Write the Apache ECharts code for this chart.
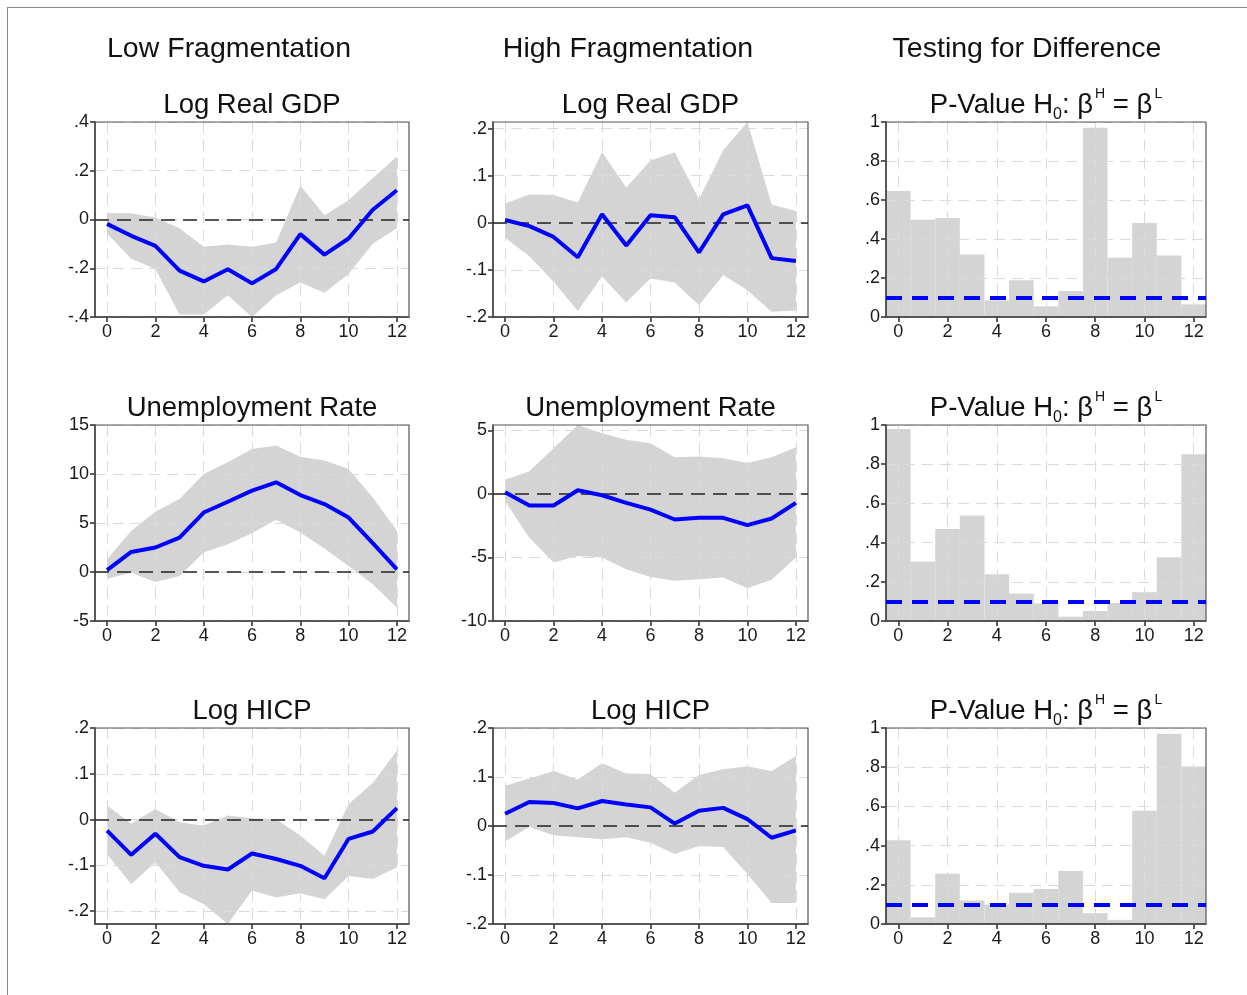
<!DOCTYPE html>
<html>
<head>
<meta charset="utf-8">
<script src="https://cdn.jsdelivr.net/npm/echarts@6/dist/echarts.min.js"></script>
<style>
  html, body { margin: 0; padding: 0; background: #fff; }
  #frame { position: absolute; left: 7px; top: 7px; width: 1240px; height: 988px;
           border-top: 1px solid #8a8a8a; border-left: 1px solid #8a8a8a; }
  #chart { position: absolute; left: 0; top: 0; width: 1247px; height: 995px; }
</style>
</head>
<body>
<div id="frame"></div>
<div id="chart"></div>
<script>
// Horizons (quarters after the shock)
const horizons = [0, 1, 2, 3, 4, 5, 6, 7, 8, 9, 10, 11, 12];
const xTicks = [0, 2, 4, 6, 8, 10, 12];

// Low fragmentation: impulse responses with confidence bands
const lowGdp      = [-0.018, -0.067, -0.108, -0.210, -0.254, -0.204, -0.262, -0.203, -0.060, -0.144, -0.078, 0.040, 0.120];
const lowGdpUpper = [0.026, 0.026, 0.008, -0.036, -0.112, -0.103, -0.112, -0.094, 0.140, 0.017, 0.079, 0.170, 0.258];
const lowGdpLower = [-0.057, -0.161, -0.203, -0.390, -0.390, -0.311, -0.400, -0.311, -0.258, -0.300, -0.224, -0.099, -0.036];

const lowUnemp      = [0.20, 2.05, 2.50, 3.50, 6.07, 7.17, 8.30, 9.15, 7.85, 6.93, 5.56, 2.94, 0.27];
const lowUnempUpper = [1.30, 4.20, 6.14, 7.44, 10.00, 11.20, 12.56, 12.90, 11.77, 11.37, 10.50, 7.60, 4.20];
const lowUnempLower = [-0.68, -0.07, -1.02, -0.41, 1.98, 2.83, 3.96, 5.32, 4.03, 2.39, 0.61, -1.26, -3.65];

const lowHicp      = [-0.024, -0.077, -0.031, -0.082, -0.101, -0.109, -0.074, -0.086, -0.101, -0.128, -0.042, -0.026, 0.025];
const lowHicpUpper = [0.031, -0.009, 0.023, -0.006, -0.013, 0.009, 0.003, 0.001, -0.035, -0.079, 0.034, 0.080, 0.151];
const lowHicpLower = [-0.075, -0.141, -0.093, -0.158, -0.185, -0.228, -0.155, -0.170, -0.161, -0.174, -0.123, -0.130, -0.104];

// High fragmentation: impulse responses with confidence bands
const highGdp      = [0.006, -0.007, -0.030, -0.073, 0.018, -0.048, 0.016, 0.012, -0.063, 0.018, 0.037, -0.075, -0.081];
const highGdpUpper = [0.041, 0.060, 0.059, 0.043, 0.150, 0.075, 0.132, 0.150, 0.050, 0.154, 0.214, 0.039, 0.025];
const highGdpLower = [-0.032, -0.071, -0.125, -0.187, -0.114, -0.169, -0.118, -0.127, -0.175, -0.111, -0.143, -0.189, -0.186];

const highUnemp      = [0.13, -0.91, -0.91, 0.29, -0.10, -0.70, -1.23, -2.01, -1.88, -1.88, -2.45, -1.93, -0.70];
const highUnempUpper = [1.12, 1.78, 3.60, 5.43, 4.78, 4.26, 4.00, 2.90, 2.95, 2.82, 2.43, 2.90, 3.68];
const highUnempLower = [-0.57, -3.45, -5.40, -4.88, -5.01, -5.93, -6.53, -6.84, -6.71, -6.58, -7.42, -6.76, -5.01];

const highHicp      = [0.025, 0.049, 0.047, 0.036, 0.051, 0.044, 0.038, 0.005, 0.031, 0.037, 0.014, -0.024, -0.009];
const highHicpUpper = [0.082, 0.097, 0.112, 0.095, 0.128, 0.107, 0.106, 0.068, 0.104, 0.116, 0.122, 0.112, 0.143];
const highHicpLower = [-0.031, -0.002, -0.019, -0.023, -0.027, -0.023, -0.034, -0.057, -0.041, -0.043, -0.098, -0.157, -0.157];

// P-values of the test that the high- and low-fragmentation responses are equal
const pGdp   = [0.646, 0.499, 0.508, 0.321, 0.085, 0.188, 0.055, 0.133, 0.971, 0.304, 0.482, 0.316, 0.065];
const pUnemp = [0.980, 0.303, 0.470, 0.538, 0.239, 0.140, 0.089, 0.022, 0.051, 0.092, 0.147, 0.325, 0.851];
const pHicp  = [0.427, 0.034, 0.256, 0.120, 0.099, 0.159, 0.179, 0.270, 0.055, 0.021, 0.578, 0.971, 0.803];
const pThreshold = 0.1;

// Y tick labels per panel
const gdpLowTicks    = [-0.4, -0.2, 0, 0.2, 0.4];
const gdpHighTicks   = [-0.2, -0.1, 0, 0.1, 0.2];
const unempLowTicks  = [-5, 0, 5, 10, 15];
const unempHighTicks = [-10, -5, 0, 5];
const hicpTicks      = [-0.2, -0.1, 0, 0.1, 0.2];
const pTicks         = [0, 0.2, 0.4, 0.6, 0.8, 1];

// Text
const columnHeaders = ['Low Fragmentation', 'High Fragmentation', 'Testing for Difference'];

const FONT = '"Liberation Sans", Arial, Helvetica, sans-serif';
const BAND = '#d4d4d4';
const BLUE = '#0000ff';

const COLS = [{ left: 95, width: 314 }, { left: 493, width: 315 }, { left: 886, width: 320 }];
const ROWS = [{ top: 122, height: 195 }, { top: 425, height: 196 }, { top: 728, height: 196 }];
const HEADER_X = [229, 628, 1027];

const panels = [
  { row: 0, col: 0, kind: 'irf', title: 'Log Real GDP', mid: lowGdp, lo: lowGdpLower, hi: lowGdpUpper, yMin: -0.4, yMax: 0.4, yTicks: gdpLowTicks },
  { row: 0, col: 1, kind: 'irf', title: 'Log Real GDP', mid: highGdp, lo: highGdpLower, hi: highGdpUpper, yMin: -0.2, yMax: 0.214, yTicks: gdpHighTicks },
  { row: 0, col: 2, kind: 'pval', p: pGdp, yMin: 0, yMax: 1, yTicks: pTicks },
  { row: 1, col: 0, kind: 'irf', title: 'Unemployment Rate', mid: lowUnemp, lo: lowUnempLower, hi: lowUnempUpper, yMin: -5, yMax: 15, yTicks: unempLowTicks },
  { row: 1, col: 1, kind: 'irf', title: 'Unemployment Rate', mid: highUnemp, lo: highUnempLower, hi: highUnempUpper, yMin: -10, yMax: 5.43, yTicks: unempHighTicks },
  { row: 1, col: 2, kind: 'pval', p: pUnemp, yMin: 0, yMax: 1, yTicks: pTicks },
  { row: 2, col: 0, kind: 'irf', title: 'Log HICP', mid: lowHicp, lo: lowHicpLower, hi: lowHicpUpper, yMin: -0.228, yMax: 0.2, yTicks: hicpTicks },
  { row: 2, col: 1, kind: 'irf', title: 'Log HICP', mid: highHicp, lo: highHicpLower, hi: highHicpUpper, yMin: -0.2, yMax: 0.2, yTicks: hicpTicks },
  { row: 2, col: 2, kind: 'pval', p: pHicp, yMin: 0, yMax: 1, yTicks: pTicks }
];

// Stata-style number labels: ".4", "-.2", "0", "15"
function stataLabel(v) {
  const s = String(Math.round(v * 1000) / 1000);
  return s.replace(/^(-?)0\./, '$1.');
}

const gridLine = { show: true, lineStyle: { color: '#dadada', width: 1, type: [11, 7] } };
const axisLineStyle = { color: '#2a2a2a', width: 1.5 };
const tickFont = { fontFamily: FONT, fontSize: 18, color: '#1a1a1a', margin: 6 };

const grid = [], xAxis = [], yAxis = [], series = [], graphic = [];

panels.forEach((p, i) => {
  const c = COLS[p.col], r = ROWS[p.row];
  grid.push({
    left: c.left, top: r.top, width: c.width, height: r.height,
    show: true, z: 4, backgroundColor: 'transparent', borderColor: '#555', borderWidth: 1.2
  });
  xAxis.push({
    gridIndex: i, type: 'value', min: -0.5, max: 12.5, splitNumber: 6, z: 3,
    axisLine: { show: true, onZero: false, lineStyle: axisLineStyle },
    axisTick: { show: true, customValues: xTicks, length: 5, lineStyle: axisLineStyle },
    axisLabel: Object.assign({ customValues: xTicks }, tickFont),
    splitLine: gridLine
  });
  const step = p.yTicks[1] - p.yTicks[0];
  yAxis.push({
    gridIndex: i, type: 'value', min: p.yMin, max: p.yMax,
    splitNumber: Math.round((p.yMax - p.yMin) / step), z: 3,
    axisLine: { show: true, onZero: false, lineStyle: axisLineStyle },
    axisTick: { show: true, customValues: p.yTicks, length: 5, lineStyle: axisLineStyle },
    axisLabel: Object.assign({ customValues: p.yTicks, formatter: stataLabel }, tickFont),
    splitLine: gridLine
  });

  const cx = c.left + c.width / 2;
  const ty = r.top - 17;

  if (p.kind === 'irf') {
    const mid = p.mid, lo = p.lo, hi = p.hi;
    // Confidence band as one filled polygon
    series.push({
      type: 'custom', xAxisIndex: i, yAxisIndex: i, z: 1, silent: true,
      data: horizons.map((h, k) => [h, lo[k], hi[k]]),
      encode: { x: 0, y: [1, 2] },
      renderItem: function (params, api) {
        if (params.dataIndex !== 0) return null;
        const pts = [];
        horizons.forEach((h, k) => pts.push(api.coord([h, hi[k]])));
        for (let k = horizons.length - 1; k >= 0; k--) pts.push(api.coord([horizons[k], lo[k]]));
        return { type: 'polygon', shape: { points: pts }, style: { fill: BAND, stroke: null } };
      }
    });
    // Point estimate with the zero reference line
    series.push({
      type: 'line', xAxisIndex: i, yAxisIndex: i, z: 5, silent: true,
      data: horizons.map((h, k) => [h, mid[k]]),
      symbol: 'none', lineStyle: { color: BLUE, width: 4 },
      markLine: {
        silent: true, symbol: 'none', label: { show: false }, animation: false,
        lineStyle: { color: '#222', width: 1.6, type: [14, 8] },
        data: [{ yAxis: 0 }]
      }
    });
    graphic.push({
      type: 'text', x: cx, y: ty, silent: true,
      style: { text: p.title, font: '27.5px ' + FONT, fill: '#111', align: 'center', verticalAlign: 'middle' }
    });
  } else {
    const pv = p.p;
    series.push({
      type: 'custom', xAxisIndex: i, yAxisIndex: i, z: 1, silent: true,
      data: horizons.map((h, k) => [h, pv[k]]),
      encode: { x: 0, y: 1 },
      renderItem: function (params, api) {
        const x = api.value(0), v = api.value(1);
        const a = api.coord([x - 0.5, v]);
        const b = api.coord([x + 0.5, 0]);
        return { type: 'rect', shape: { x: a[0], y: a[1], width: b[0] - a[0], height: b[1] - a[1] }, style: { fill: BAND, stroke: null } };
      }
    });
    // 10% significance threshold
    series.push({
      type: 'line', xAxisIndex: i, yAxisIndex: i, z: 5, silent: true, data: [],
      markLine: {
        silent: true, symbol: 'none', label: { show: false }, animation: false,
        lineStyle: { color: BLUE, width: 4, type: [16, 10] },
        data: [{ yAxis: pThreshold }]
      }
    });
    const main = '27.5px ' + FONT, sub = '16px ' + FONT, sup = '14px ' + FONT;
    graphic.push({
      type: 'text', x: cx, y: ty, silent: true,
      style: {
        text: '{m|P-Value H}{s|0}{m|: β}{u|H}{m| = β}{u|L}',
        align: 'center', verticalAlign: 'middle', fill: '#111',
        rich: {
          m: { font: main, fill: '#111', lineHeight: 36, verticalAlign: 'middle' },
          s: { font: sub, fill: '#111', lineHeight: 26, verticalAlign: 'bottom' },
          u: { font: sup, fill: '#111', lineHeight: 14, verticalAlign: 'top', padding: [0, 0, 0, 2] }
        }
      }
    });
  }
});

columnHeaders.forEach((t, k) => {
  graphic.push({
    type: 'text', x: HEADER_X[k], y: 49, silent: true,
    style: { text: t, font: '28.5px ' + FONT, fill: '#111', align: 'center', verticalAlign: 'middle' }
  });
});

const chart = echarts.init(document.getElementById('chart'), null, { renderer: 'canvas' });
chart.setOption({
  animation: false,
  backgroundColor: 'transparent',
  grid: grid,
  xAxis: xAxis,
  yAxis: yAxis,
  series: series,
  graphic: graphic
});
</script>
</body>
</html>
